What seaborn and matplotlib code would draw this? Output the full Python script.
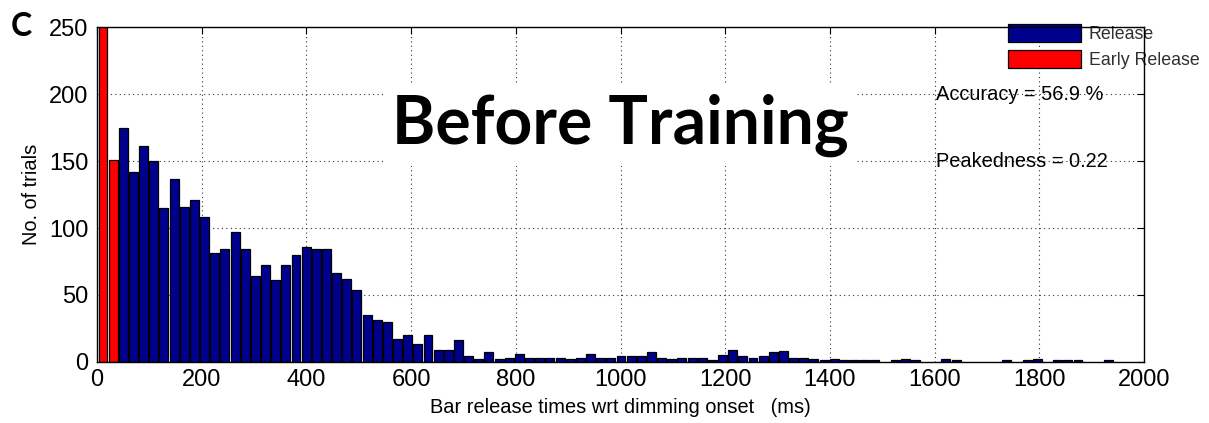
import numpy as np
import pandas as pd
import matplotlib
matplotlib.use("Agg")
import matplotlib.pyplot as plt
from matplotlib.patches import Patch
import seaborn as sns

# Histogram layout: 100 equal bins spanning the observed release times (ms)
bin_start = 1.8
bin_width = 19.4
n_bins = 100

# Trial counts per bin; the first two bins are early releases
early_counts = [290, 151]
release_counts = [175, 142, 161, 150, 115, 137, 116, 121, 108, 81,
                  84, 97, 84, 64, 72, 61, 72, 80, 86, 84,
                  84, 66, 62, 54, 35, 31, 30, 17, 20, 13,
                  20, 9, 9, 16, 4, 2, 7, 2, 3, 6,
                  3, 3, 3, 3, 2, 3, 6, 3, 3, 4,
                  4, 4, 7, 3, 2, 3, 3, 3, 1, 5,
                  9, 4, 3, 4, 7, 8, 3, 3, 2, 1,
                  2, 1, 1, 1, 1, 0, 1, 2, 1, 0,
                  0, 2, 1, 0, 0, 0, 0, 1, 0, 1,
                  2, 0, 1, 1, 1, 0, 0, 1]

series_names = ["Release", "Early Release"]
series_colors = {"Release": "#00008F", "Early Release": "#FF0000"}

x_ticks = list(range(0, 2001, 200))
y_ticks = list(range(0, 251, 50))

accuracy_text = "Accuracy = 56.9 %"
peakedness_text = "Peakedness = 0.22"

sns.set_style("white")
plt.rcParams["font.family"] = ["Liberation Sans", "DejaVu Sans"]
plt.rcParams.update({"text.color": "black", "axes.labelcolor": "black",
                     "xtick.color": "black", "ytick.color": "black"})

edges = bin_start + bin_width * np.arange(n_bins + 1)
centers = (edges[:-1] + edges[1:]) / 2
counts = early_counts + release_counts
kinds = ["Early Release"] * len(early_counts) + ["Release"] * len(release_counts)
df = pd.DataFrame({"time": centers, "count": counts, "kind": kinds})

W, H = 1209, 423
fig = plt.figure(figsize=(W / 100, H / 100), dpi=100)
ax = fig.add_axes([97 / W, 1 - 361.7 / H, (1144 - 97) / W, (361.7 - 27.5) / H])

for name in series_names:
    sub = df[df["kind"] == name]
    sns.histplot(data=sub, x="time", weights="count", bins=list(edges),
                 shrink=0.88, color=series_colors[name], edgecolor="black",
                 linewidth=0.9, alpha=1, ax=ax)

# empty bins draw nothing
for p in ax.patches:
    if p.get_height() == 0:
        p.set_visible(False)

ax.set_xlim(0, 2000)
ax.set_ylim(0, 250)
ax.set_xticks(x_ticks)
ax.set_yticks(y_ticks)
ax.set_axisbelow(True)
ax.grid(True, linestyle=(0, (1, 3)), linewidth=0.8, color="#333333")
for s in ax.spines.values():
    s.set_visible(True)
    s.set_color("black")
    s.set_linewidth(1.0)
ax.tick_params(direction="in", length=5, width=0.8, top=True, right=True,
               labelsize=17, colors="black", pad=6)
ax.tick_params(axis="x", pad=5)

ax.set_xlabel("Bar release times wrt dimming onset   (ms)", fontsize=14.4,
              labelpad=5, color="black")
ax.set_ylabel("No. of trials", fontsize=14.4, labelpad=6, color="black")

ax.text(1000, 163, "Before Training", ha="center", va="baseline",
        fontsize=47.5, fontweight="bold", family=["Lato", "DejaVu Sans"],
        color="black",
        bbox=dict(facecolor="white", edgecolor="none", pad=6), zorder=3)

ax.text(1602, 200, accuracy_text, ha="left", va="center", fontsize=14.4,
        color="black")
ax.text(1602, 150, peakedness_text, ha="left", va="center", fontsize=14.4,
        color="black")

handles = [Patch(facecolor=series_colors[n], edgecolor="black", linewidth=0.9)
           for n in series_names]
leg = ax.legend(handles, series_names, loc="upper left",
                bbox_to_anchor=(1007.7 / W, 1 - 24 / H),
                bbox_transform=fig.transFigure, frameon=False, fontsize=12.8,
                handlelength=4.1, handleheight=1.15, handletextpad=0.45,
                labelspacing=0.42, borderpad=0, borderaxespad=0)
for t in leg.get_texts():
    t.set_color("#303030")
leg.set_zorder(2)

fig.text(21 / W, 1 - 26 / H, "C", ha="center", va="center", fontsize=23,
         fontweight="bold", family=["Lato", "DejaVu Sans"], color="black")

fig.savefig("out.png", dpi=100)
